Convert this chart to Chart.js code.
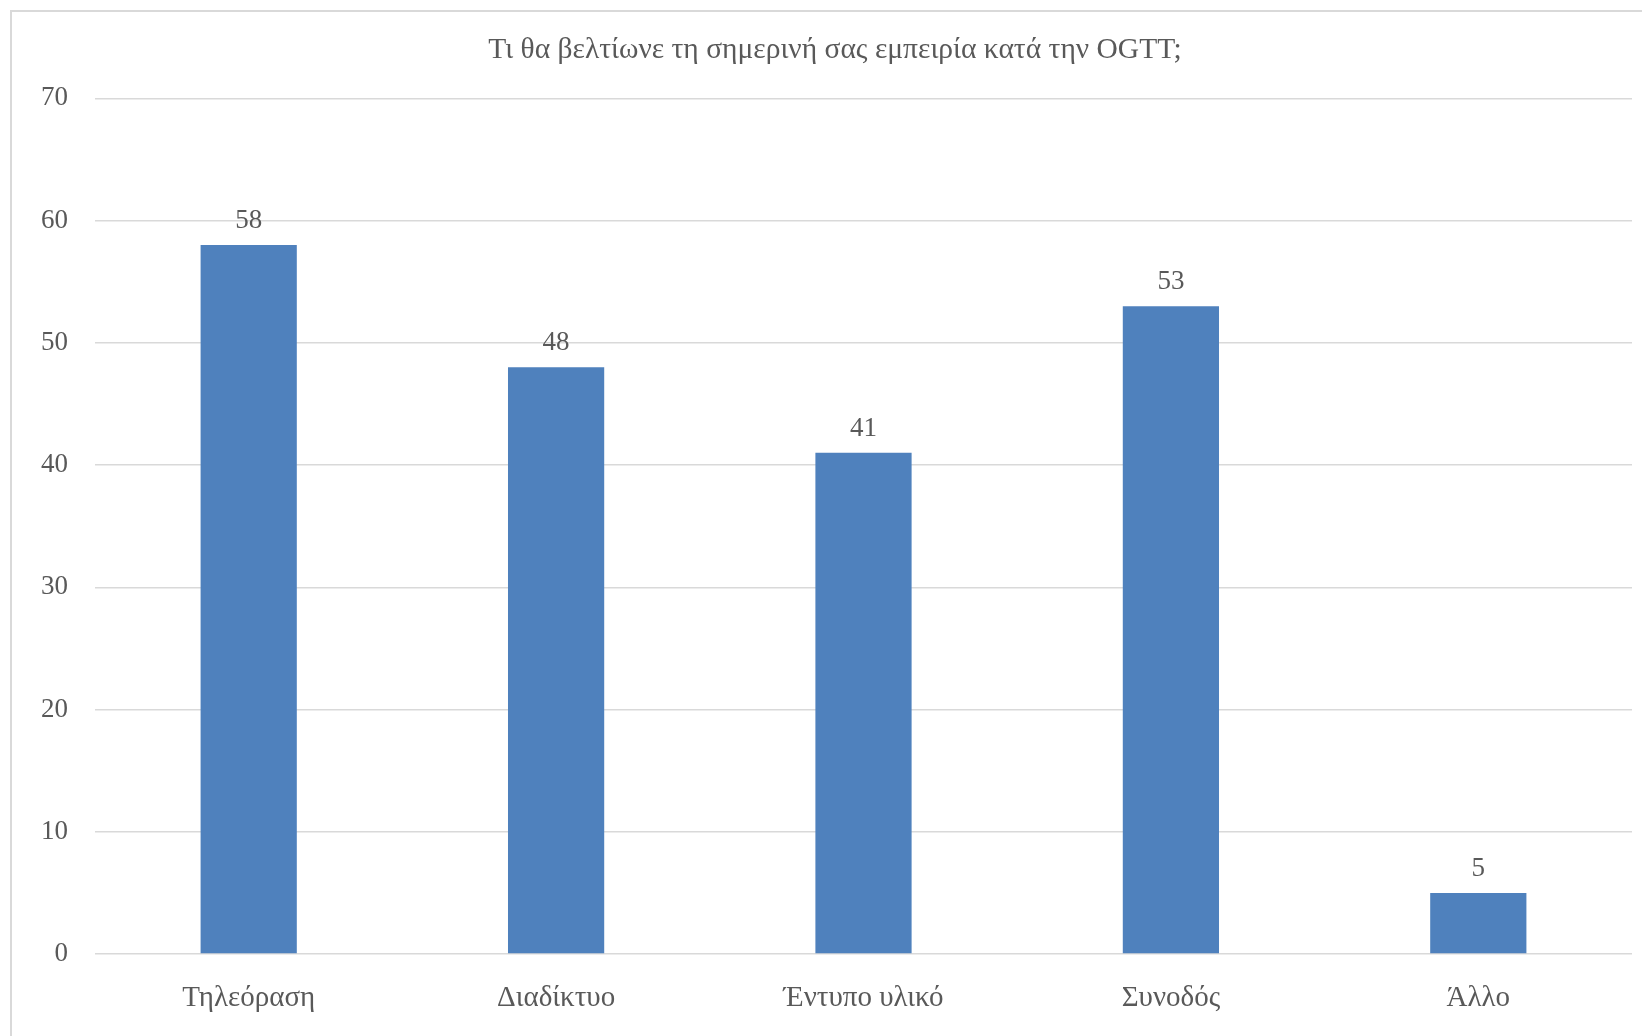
<!DOCTYPE html>
<html>
<head>
<meta charset="utf-8">
<script src="https://cdn.jsdelivr.net/npm/chart.js@4/dist/chart.umd.min.js"></script>
<style>
  html, body { margin: 0; padding: 0; background: #ffffff; overflow: hidden; width: 1642px; height: 1036px; }
  #frame { position: absolute; left: 10px; top: 10px; width: 1660px; height: 1060px; border: 2px solid #d9d9d9; box-sizing: border-box; }
  #wrap { position: absolute; left: 12px; top: 12px; width: 1646px; height: 1024px; }
</style>
</head>
<body>
<div id="frame"></div>
<div id="wrap"><canvas id="myChart_bar"></canvas></div>
<script>
var xValues = ["Τηλεόραση", "Διαδίκτυο", "Έντυπο υλικό", "Συνοδός", "Άλλο"];
var yValues = [58, 48, 41, 53, 5];
var barColors = ["#4f81bd", "#4f81bd", "#4f81bd", "#4f81bd", "#4f81bd"];

var textColor = "#595959";
var gridColor = "#d9d9d9";
var serif = "'Liberation Serif', 'DejaVu Serif', serif";

// value above each bar
var barValues = {
    id: "barValues",
    afterDatasetsDraw: function (chart) {
        var ctx = chart.ctx;
        var meta = chart.getDatasetMeta(0);
        ctx.save();
        ctx.font = "27px " + serif;
        ctx.fillStyle = textColor;
        ctx.textAlign = "center";
        ctx.textBaseline = "alphabetic";
        meta.data.forEach(function (bar, i) {
            ctx.fillText(String(chart.data.datasets[0].data[i]), bar.x, bar.y - 17);
        });
        ctx.restore();
    },
};

new Chart("myChart_bar", {
    type: "bar",
    data: {
        labels: xValues,
        datasets: [
            {
                backgroundColor: barColors,
                data: yValues,
                barPercentage: 1,
                categoryPercentage: 0.313,
            },
        ],
    },
    options: {
        responsive: true,
        maintainAspectRatio: false,
        animation: false,
        layout: {
            padding: { left: 26, right: 26, top: 0, bottom: 0 },
        },
        plugins: {
            legend: { display: false },
            tooltip: { enabled: false },
            title: {
                display: true,
                text: "Τι θα βελτίωνε τη σημερινή σας εμπειρία κατά την OGTT;",
                color: textColor,
                font: { family: serif, size: 29.5, weight: "normal", lineHeight: 1.2 },
                padding: { top: 21, bottom: 30 },
            },
        },
        scales: {
            x: {
                grid: { display: false },
                border: { display: false },
                ticks: {
                    color: textColor,
                    font: { family: serif, size: 29 },
                    padding: 19,
                    maxRotation: 0,
                },
                afterFit: function (scale) {
                    scale.height = 82;
                },
            },
            y: {
                min: 0,
                max: 70,
                grid: { color: gridColor, lineWidth: 1.5, drawTicks: false },
                border: { display: false },
                ticks: {
                    stepSize: 10,
                    color: textColor,
                    font: { family: serif, size: 27 },
                    padding: 27,
                },
                afterFit: function (scale) {
                    scale.width = 57;
                },
            },
        },
    },
    plugins: [barValues],
});
</script>
</body>
</html>
